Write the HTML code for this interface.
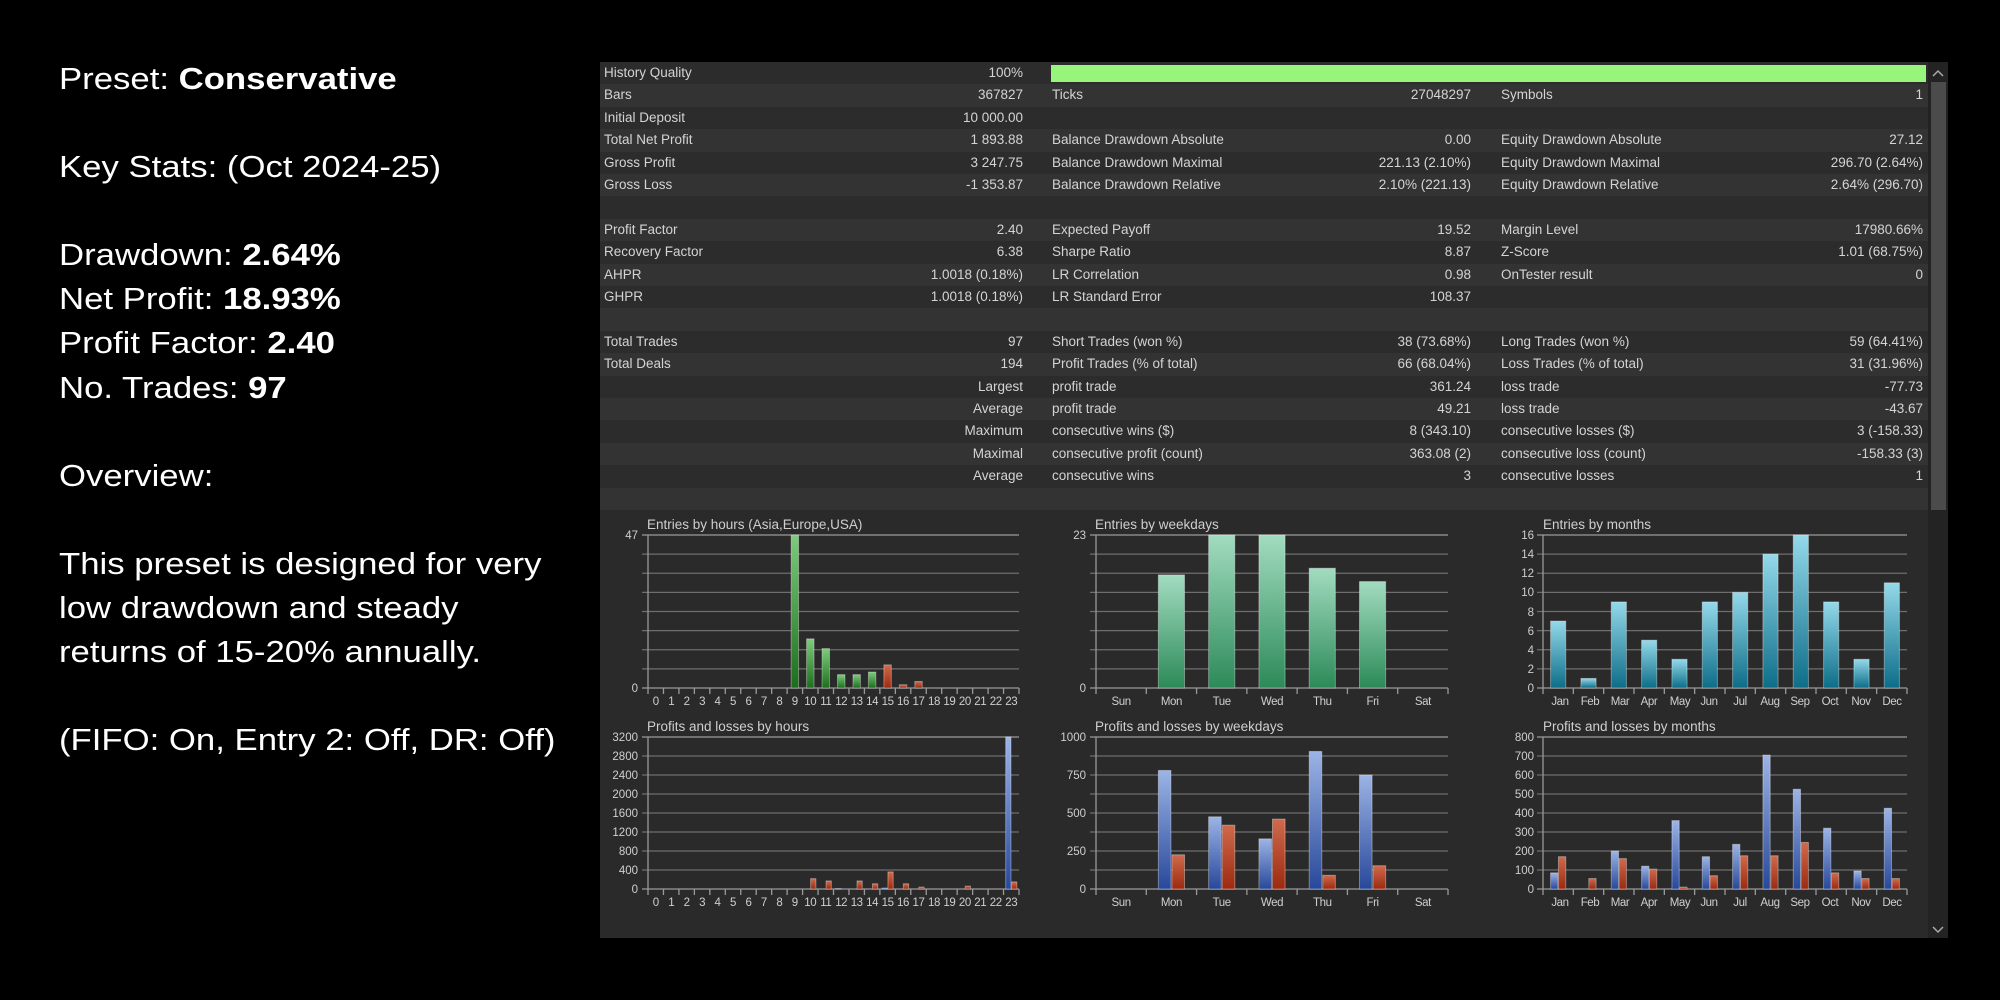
<!DOCTYPE html>
<html><head><meta charset="utf-8"><style>
*{margin:0;padding:0;box-sizing:border-box}
body{width:2000px;height:1000px;background:#000;position:relative;overflow:hidden;font-family:"Liberation Sans",sans-serif}
.lt{position:absolute;left:59px;color:#fff;font-size:31px;line-height:40px;white-space:nowrap;transform:scaleX(1.12);transform-origin:0 0}
.lt b{font-weight:bold}
#panel{position:absolute;left:600px;top:62px;width:1329px;height:876px;background:#2a2a2a}
.row{position:absolute;left:0;width:1329px;height:22.4px}
.row span{position:absolute;top:0;line-height:22.4px;font-size:13.5px;color:#d4d4d4;white-space:nowrap}
.a{left:4px}.b{right:906px}.c{left:452px}.d{right:458px}.e{left:901px}.f{right:6px}
#sb{position:absolute;left:1928px;top:62px;width:20px;height:876px;background:#232323}
#thumb{position:absolute;left:1931px;top:82px;width:15px;height:428px;background:#4b4b4b}
svg{position:absolute;left:0;top:0}
svg text{font-family:"Liberation Sans",sans-serif;fill:#cfcfcf}
</style></head><body>
<div class="lt" style="top:59px">Preset: <b>Conservative</b></div>
<div class="lt" style="top:147px">Key Stats: (Oct 2024-25)</div>
<div class="lt" style="top:235px">Drawdown: <b>2.64%</b></div>
<div class="lt" style="top:279px">Net Profit: <b>18.93%</b></div>
<div class="lt" style="top:323px">Profit Factor: <b>2.40</b></div>
<div class="lt" style="top:368px">No. Trades: <b>97</b></div>
<div class="lt" style="top:456px">Overview:</div>
<div class="lt" style="top:544px">This preset is designed for very</div>
<div class="lt" style="top:588px">low drawdown and steady</div>
<div class="lt" style="top:632px">returns of 15-20% annually.</div>
<div class="lt" style="top:720px">(FIFO: On, Entry 2: Off, DR: Off)</div>

<div id="panel">
<div class="row" style="top:0;background:#2c2c2c"><span class="a">History Quality</span><span class="b">100%</span><div style="position:absolute;left:451px;top:3px;width:875px;height:17px;background:#98f57c"></div></div>
<div class="row" style="top:22.4px;background:#333"><span class="a">Bars</span><span class="b">367827</span><span class="c">Ticks</span><span class="d">27048297</span><span class="e">Symbols</span><span class="f">1</span></div>
<div class="row" style="top:44.8px;background:#2c2c2c"><span class="a">Initial Deposit</span><span class="b">10 000.00</span></div>
<div class="row" style="top:67.2px;background:#333"><span class="a">Total Net Profit</span><span class="b">1 893.88</span><span class="c">Balance Drawdown Absolute</span><span class="d">0.00</span><span class="e">Equity Drawdown Absolute</span><span class="f">27.12</span></div>
<div class="row" style="top:89.6px;background:#2c2c2c"><span class="a">Gross Profit</span><span class="b">3 247.75</span><span class="c">Balance Drawdown Maximal</span><span class="d">221.13 (2.10%)</span><span class="e">Equity Drawdown Maximal</span><span class="f">296.70 (2.64%)</span></div>
<div class="row" style="top:112px;background:#333"><span class="a">Gross Loss</span><span class="b">-1 353.87</span><span class="c">Balance Drawdown Relative</span><span class="d">2.10% (221.13)</span><span class="e">Equity Drawdown Relative</span><span class="f">2.64% (296.70)</span></div>
<div class="row" style="top:134.4px;background:#2c2c2c"></div>
<div class="row" style="top:156.8px;background:#333"><span class="a">Profit Factor</span><span class="b">2.40</span><span class="c">Expected Payoff</span><span class="d">19.52</span><span class="e">Margin Level</span><span class="f">17980.66%</span></div>
<div class="row" style="top:179.2px;background:#2c2c2c"><span class="a">Recovery Factor</span><span class="b">6.38</span><span class="c">Sharpe Ratio</span><span class="d">8.87</span><span class="e">Z-Score</span><span class="f">1.01 (68.75%)</span></div>
<div class="row" style="top:201.6px;background:#333"><span class="a">AHPR</span><span class="b">1.0018 (0.18%)</span><span class="c">LR Correlation</span><span class="d">0.98</span><span class="e">OnTester result</span><span class="f">0</span></div>
<div class="row" style="top:224px;background:#2c2c2c"><span class="a">GHPR</span><span class="b">1.0018 (0.18%)</span><span class="c">LR Standard Error</span><span class="d">108.37</span></div>
<div class="row" style="top:246.4px;background:#333"></div>
<div class="row" style="top:268.8px;background:#2c2c2c"><span class="a">Total Trades</span><span class="b">97</span><span class="c">Short Trades (won %)</span><span class="d">38 (73.68%)</span><span class="e">Long Trades (won %)</span><span class="f">59 (64.41%)</span></div>
<div class="row" style="top:291.2px;background:#333"><span class="a">Total Deals</span><span class="b">194</span><span class="c">Profit Trades (% of total)</span><span class="d">66 (68.04%)</span><span class="e">Loss Trades (% of total)</span><span class="f">31 (31.96%)</span></div>
<div class="row" style="top:313.6px;background:#2c2c2c"><span class="b">Largest</span><span class="c">profit trade</span><span class="d">361.24</span><span class="e">loss trade</span><span class="f">-77.73</span></div>
<div class="row" style="top:336px;background:#333"><span class="b">Average</span><span class="c">profit trade</span><span class="d">49.21</span><span class="e">loss trade</span><span class="f">-43.67</span></div>
<div class="row" style="top:358.4px;background:#2c2c2c"><span class="b">Maximum</span><span class="c">consecutive wins ($)</span><span class="d">8 (343.10)</span><span class="e">consecutive losses ($)</span><span class="f">3 (-158.33)</span></div>
<div class="row" style="top:380.8px;background:#333"><span class="b">Maximal</span><span class="c">consecutive profit (count)</span><span class="d">363.08 (2)</span><span class="e">consecutive loss (count)</span><span class="f">-158.33 (3)</span></div>
<div class="row" style="top:403.2px;background:#2c2c2c"><span class="b">Average</span><span class="c">consecutive wins</span><span class="d">3</span><span class="e">consecutive losses</span><span class="f">1</span></div>
<div class="row" style="top:425.6px;background:#333"></div>
</div>
<div id="sb"></div><div id="thumb"></div>
<svg width="2000" height="1000" viewBox="0 0 2000 1000">
<defs>
<linearGradient id="gG" x1="0" y1="0" x2="0" y2="1"><stop offset="0" stop-color="#7ccc7c"/><stop offset="1" stop-color="#1c6e1c"/></linearGradient>
<linearGradient id="gW" x1="0" y1="0" x2="0" y2="1"><stop offset="0" stop-color="#a2dcc0"/><stop offset="1" stop-color="#2c8a58"/></linearGradient>
<linearGradient id="gC" x1="0" y1="0" x2="0" y2="1"><stop offset="0" stop-color="#94d9ea"/><stop offset="1" stop-color="#0d6d88"/></linearGradient>
<linearGradient id="gB" x1="0" y1="0" x2="0" y2="1"><stop offset="0" stop-color="#9cb4e6"/><stop offset="1" stop-color="#28489a"/></linearGradient>
<linearGradient id="gR" x1="0" y1="0" x2="0" y2="1"><stop offset="0" stop-color="#d06a4c"/><stop offset="1" stop-color="#9c2a10"/></linearGradient>
</defs>
<path d="M1933 76 L1938 71 L1943 76" stroke="#aaa" stroke-width="1.5" fill="none"/>
<path d="M1933 927 L1938 932 L1943 927" stroke="#aaa" stroke-width="1.5" fill="none"/>
<g id="charts"></g>
<g font-size="13.5">
<text x="647" y="529">Entries by hours (Asia,Europe,USA)</text>
<text x="1095" y="529">Entries by weekdays</text>
<text x="1543" y="529">Entries by months</text>
<text x="647" y="731">Profits and losses by hours</text>
<text x="1095" y="731">Profits and losses by weekdays</text>
<text x="1543" y="731">Profits and losses by months</text>
</g>
<g font-size="11.5" text-anchor="end">
<text x="638" y="539">47</text><text x="638" y="692">0</text>
<text x="1086" y="539">23</text><text x="1086" y="692">0</text>
<text x="1534" y="539">16</text><text x="1534" y="558">14</text><text x="1534" y="577">12</text><text x="1534" y="596">10</text><text x="1534" y="616">8</text><text x="1534" y="635">6</text><text x="1534" y="654">4</text><text x="1534" y="673">2</text><text x="1534" y="692">0</text>
<text x="638" y="741">3200</text><text x="638" y="760">2800</text><text x="638" y="779">2400</text><text x="638" y="798">2000</text><text x="638" y="817">1600</text><text x="638" y="836">1200</text><text x="638" y="855">800</text><text x="638" y="874">400</text><text x="638" y="893">0</text>
<text x="1086" y="741">1000</text><text x="1086" y="779">750</text><text x="1086" y="817">500</text><text x="1086" y="855">250</text><text x="1086" y="893">0</text>
<text x="1534" y="741">800</text><text x="1534" y="760">700</text><text x="1534" y="779">600</text><text x="1534" y="798">500</text><text x="1534" y="817">400</text><text x="1534" y="836">300</text><text x="1534" y="855">200</text><text x="1534" y="874">100</text><text x="1534" y="893">0</text>
</g>
<g font-size="11.5" text-anchor="middle" letter-spacing="-0.4">
<g transform="translate(0,705)"><text x="655.7">0</text><text x="671.2">1</text><text x="686.6">2</text><text x="702.1">3</text><text x="717.5">4</text><text x="733">5</text><text x="748.5">6</text><text x="763.9">7</text><text x="779.4">8</text><text x="794.8">9</text><text x="810.3">10</text><text x="825.8">11</text><text x="841.2">12</text><text x="856.7">13</text><text x="872.1">14</text><text x="887.6">15</text><text x="903">16</text><text x="918.5">17</text><text x="934">18</text><text x="949.4">19</text><text x="964.9">20</text><text x="980.3">21</text><text x="995.8">22</text><text x="1011.3">23</text></g>
<g transform="translate(0,906)"><text x="655.7">0</text><text x="671.2">1</text><text x="686.6">2</text><text x="702.1">3</text><text x="717.5">4</text><text x="733">5</text><text x="748.5">6</text><text x="763.9">7</text><text x="779.4">8</text><text x="794.8">9</text><text x="810.3">10</text><text x="825.8">11</text><text x="841.2">12</text><text x="856.7">13</text><text x="872.1">14</text><text x="887.6">15</text><text x="903">16</text><text x="918.5">17</text><text x="934">18</text><text x="949.4">19</text><text x="964.9">20</text><text x="980.3">21</text><text x="995.8">22</text><text x="1011.3">23</text></g>
<g transform="translate(0,705)"><text x="1121.1">Sun</text><text x="1171.4">Mon</text><text x="1221.7">Tue</text><text x="1272">Wed</text><text x="1322.3">Thu</text><text x="1372.6">Fri</text><text x="1422.9">Sat</text></g>
<g transform="translate(0,906)"><text x="1121.1">Sun</text><text x="1171.4">Mon</text><text x="1221.7">Tue</text><text x="1272">Wed</text><text x="1322.3">Thu</text><text x="1372.6">Fri</text><text x="1422.9">Sat</text></g>
<g transform="translate(0,705)"><text x="1560">Jan</text><text x="1590">Feb</text><text x="1620">Mar</text><text x="1649">Apr</text><text x="1680">May</text><text x="1709">Jun</text><text x="1740">Jul</text><text x="1770">Aug</text><text x="1800">Sep</text><text x="1830">Oct</text><text x="1861">Nov</text><text x="1892">Dec</text></g>
<g transform="translate(0,906)"><text x="1560">Jan</text><text x="1590">Feb</text><text x="1620">Mar</text><text x="1649">Apr</text><text x="1680">May</text><text x="1709">Jun</text><text x="1740">Jul</text><text x="1770">Aug</text><text x="1800">Sep</text><text x="1830">Oct</text><text x="1861">Nov</text><text x="1892">Dec</text></g>
</g>
</svg>
<script>
(function(){
var g=document.getElementById('charts'),s='';
function chart(x0,x1,y0,y1,n,max,series){
  var h=y1-y0,w=(x1-x0)/n,i;
  for(i=0;i<=8;i++){var y=y0+h*i/8;s+='<line x1="'+(x0-6)+'" x2="'+x1+'" y1="'+y+'" y2="'+y+'" stroke="'+(i==8||i==0?'#9a9a9a':'#6e6e6e')+'" stroke-width="1.3"/>';}
  s+='<line x1="'+x0+'" x2="'+x0+'" y1="'+y0+'" y2="'+(y1+6)+'" stroke="#9a9a9a" stroke-width="1.3"/>';
  for(i=1;i<=n;i++){var x=x0+w*i;s+='<line x1="'+x+'" x2="'+x+'" y1="'+y1+'" y2="'+(y1+6)+'" stroke="#9a9a9a" stroke-width="1.3"/>';}
  series.forEach(function(se){
    for(i=0;i<n;i++){var v=se.d[i];if(!v)continue;var bh=h*v/max;var bx=x0+w*i+se.off*w;var fill=se.f;if(se.cf)fill=se.cf(i);
      s+='<rect x="'+bx+'" y="'+(y1-bh)+'" width="'+(se.bw*w)+'" height="'+bh+'" fill="url(#'+fill+')" stroke="'+(se.st||'#fff')+'" stroke-opacity="0.35" stroke-width="1"/>';}
  });
}
var eh=[0,0,0,0,0,0,0,0,0,47,15.1,12.1,4.1,4.1,4.9,7.1,1,2,0,0,0,0,0,0];
chart(648,1019,535,688,24,47,[{d:eh,off:0.26,bw:0.48,f:'gG',cf:function(i){return i>=15?'gR':'gG'}}]);
chart(1096,1448,535,688,7,23,[{d:[0,17,23,23,18,16,0],off:0.24,bw:0.52,f:'gW'}]);
chart(1543,1907,535,688,12,16,[{d:[7,1,9,5,3,9,10,14,16,9,3,11],off:0.25,bw:0.5,f:'gC'}]);
var hb=[0,0,0,0,0,0,0,0,0,0,0,0,10,0,0,20,0,0,0,0,0,0,0,3200],hr=[0,0,0,0,0,0,0,0,0,0,218,170,0,170,110,360,110,40,0,0,60,0,0,150];
chart(648,1019,737,889,24,3200,[{d:hb,off:0.14,bw:0.34,f:'gB'},{d:hr,off:0.52,bw:0.34,f:'gR'}]);
chart(1096,1448,737,889,7,1000,[{d:[0,780,475,330,905,750,0],off:0.24,bw:0.25,f:'gB'},{d:[0,225,420,460,90,153,0],off:0.51,bw:0.25,f:'gR'}]);
chart(1543,1907,737,889,12,800,[{d:[85,0,200,120,360,170,235,705,525,320,95,425],off:0.25,bw:0.24,f:'gB'},{d:[170,55,160,105,10,70,175,175,245,85,55,55],off:0.51,bw:0.24,f:'gR'}]);
g.innerHTML=s;
})();
</script>
</body></html>
